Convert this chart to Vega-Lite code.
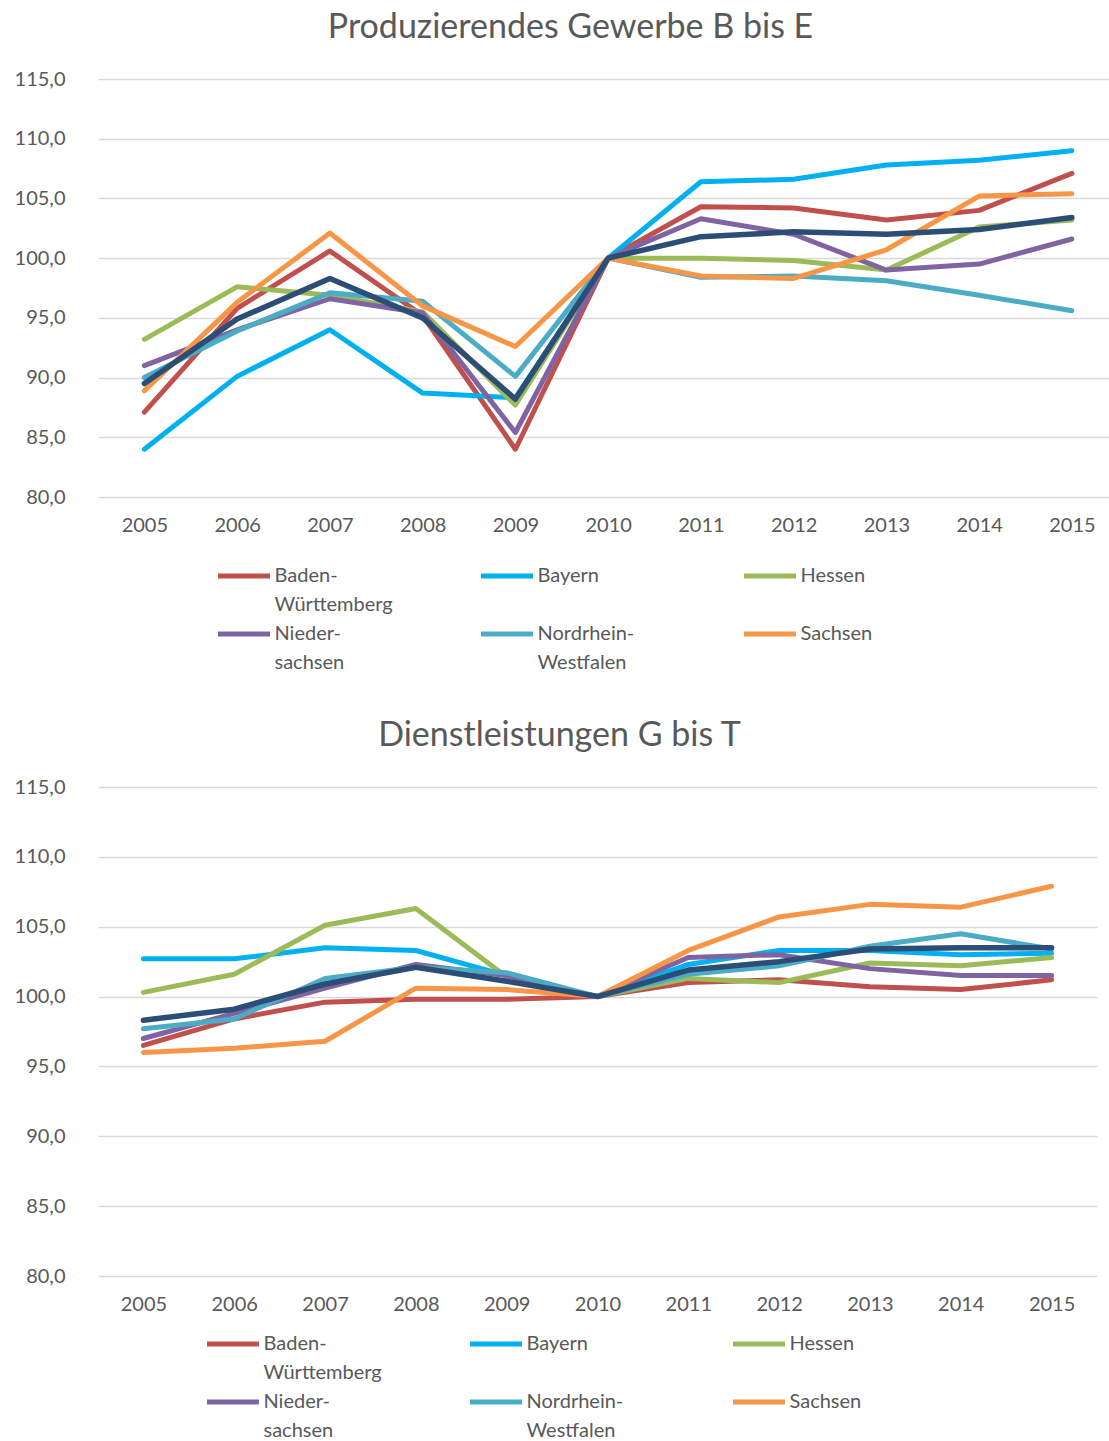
{
  "$schema": "https://vega.github.io/schema/vega-lite/v6.json",
  "padding": {"top": 11, "left": 0, "right": 0, "bottom": 0},
  "background": "white",
  "spacing": 46,
  "config": {
    "font": "Lato",
    "view": {"stroke": null},
    "title": {"fontWeight": "normal", "color": "#595959", "font": "Lato"},
    "axisY": {
      "grid": true, "gridColor": "#D9D9D9", "gridWidth": 1.5, "domain": false, "ticks": false,
      "labelColor": "#595959", "labelFontSize": 20, "labelPadding": 33, "minExtent": 98, "maxExtent": 98,
      "title": null
    },
    "axisX": {
      "grid": false, "domain": false, "ticks": false, "labelColor": "#595959", "labelFontSize": 20,
      "labelPadding": 18, "title": null, "labelFlush": false
    },
    "legend": {
      "orient": "none", "direction": "horizontal", "columns": 3, "symbolType": "M-4,0L4,0", "symbolSize": 169, "symbolStrokeWidth": 5,
      "labelFontSize": 20, "labelColor": "#595959", "labelOffset": 20.5, "labelLimit": 300, "columnPadding": 78,
      "rowPadding": 9, "gridAlign": "all", "title": null, "labelBaseline": "top"
    }
  },
  "datasets": {
    "pg": [
      {"land": "Baden-Württemberg", "jahr": 2005, "wert": 87.1}, {"land": "Baden-Württemberg", "jahr": 2006, "wert": 95.8}, {"land": "Baden-Württemberg", "jahr": 2007, "wert": 100.6}, {"land": "Baden-Württemberg", "jahr": 2008, "wert": 95.2}, {"land": "Baden-Württemberg", "jahr": 2009, "wert": 84.0}, {"land": "Baden-Württemberg", "jahr": 2010, "wert": 100.0}, {"land": "Baden-Württemberg", "jahr": 2011, "wert": 104.3}, {"land": "Baden-Württemberg", "jahr": 2012, "wert": 104.2}, {"land": "Baden-Württemberg", "jahr": 2013, "wert": 103.2}, {"land": "Baden-Württemberg", "jahr": 2014, "wert": 104.0}, {"land": "Baden-Württemberg", "jahr": 2015, "wert": 107.1},
      {"land": "Bayern", "jahr": 2005, "wert": 84.0}, {"land": "Bayern", "jahr": 2006, "wert": 90.1}, {"land": "Bayern", "jahr": 2007, "wert": 94.0}, {"land": "Bayern", "jahr": 2008, "wert": 88.7}, {"land": "Bayern", "jahr": 2009, "wert": 88.3}, {"land": "Bayern", "jahr": 2010, "wert": 100.0}, {"land": "Bayern", "jahr": 2011, "wert": 106.4}, {"land": "Bayern", "jahr": 2012, "wert": 106.6}, {"land": "Bayern", "jahr": 2013, "wert": 107.8}, {"land": "Bayern", "jahr": 2014, "wert": 108.2}, {"land": "Bayern", "jahr": 2015, "wert": 109.0},
      {"land": "Hessen", "jahr": 2005, "wert": 93.2}, {"land": "Hessen", "jahr": 2006, "wert": 97.6}, {"land": "Hessen", "jahr": 2007, "wert": 96.9}, {"land": "Hessen", "jahr": 2008, "wert": 95.5}, {"land": "Hessen", "jahr": 2009, "wert": 87.7}, {"land": "Hessen", "jahr": 2010, "wert": 100.0}, {"land": "Hessen", "jahr": 2011, "wert": 100.0}, {"land": "Hessen", "jahr": 2012, "wert": 99.8}, {"land": "Hessen", "jahr": 2013, "wert": 99.0}, {"land": "Hessen", "jahr": 2014, "wert": 102.6}, {"land": "Hessen", "jahr": 2015, "wert": 103.2},
      {"land": "Niedersachsen", "jahr": 2005, "wert": 91.0}, {"land": "Niedersachsen", "jahr": 2006, "wert": 94.0}, {"land": "Niedersachsen", "jahr": 2007, "wert": 96.6}, {"land": "Niedersachsen", "jahr": 2008, "wert": 95.4}, {"land": "Niedersachsen", "jahr": 2009, "wert": 85.4}, {"land": "Niedersachsen", "jahr": 2010, "wert": 100.0}, {"land": "Niedersachsen", "jahr": 2011, "wert": 103.3}, {"land": "Niedersachsen", "jahr": 2012, "wert": 102.0}, {"land": "Niedersachsen", "jahr": 2013, "wert": 99.0}, {"land": "Niedersachsen", "jahr": 2014, "wert": 99.5}, {"land": "Niedersachsen", "jahr": 2015, "wert": 101.6},
      {"land": "Nordrhein-Westfalen", "jahr": 2005, "wert": 90.0}, {"land": "Nordrhein-Westfalen", "jahr": 2006, "wert": 93.9}, {"land": "Nordrhein-Westfalen", "jahr": 2007, "wert": 97.1}, {"land": "Nordrhein-Westfalen", "jahr": 2008, "wert": 96.4}, {"land": "Nordrhein-Westfalen", "jahr": 2009, "wert": 90.1}, {"land": "Nordrhein-Westfalen", "jahr": 2010, "wert": 100.0}, {"land": "Nordrhein-Westfalen", "jahr": 2011, "wert": 98.4}, {"land": "Nordrhein-Westfalen", "jahr": 2012, "wert": 98.5}, {"land": "Nordrhein-Westfalen", "jahr": 2013, "wert": 98.1}, {"land": "Nordrhein-Westfalen", "jahr": 2014, "wert": 96.9}, {"land": "Nordrhein-Westfalen", "jahr": 2015, "wert": 95.6},
      {"land": "Sachsen", "jahr": 2005, "wert": 88.9}, {"land": "Sachsen", "jahr": 2006, "wert": 96.3}, {"land": "Sachsen", "jahr": 2007, "wert": 102.1}, {"land": "Sachsen", "jahr": 2008, "wert": 96.0}, {"land": "Sachsen", "jahr": 2009, "wert": 92.6}, {"land": "Sachsen", "jahr": 2010, "wert": 100.0}, {"land": "Sachsen", "jahr": 2011, "wert": 98.5}, {"land": "Sachsen", "jahr": 2012, "wert": 98.3}, {"land": "Sachsen", "jahr": 2013, "wert": 100.7}, {"land": "Sachsen", "jahr": 2014, "wert": 105.2}, {"land": "Sachsen", "jahr": 2015, "wert": 105.4}
    ],
    "pgD": [
      {"land": "Deutschland", "jahr": 2005, "wert": 89.5}, {"land": "Deutschland", "jahr": 2006, "wert": 94.9}, {"land": "Deutschland", "jahr": 2007, "wert": 98.3}, {"land": "Deutschland", "jahr": 2008, "wert": 95.0}, {"land": "Deutschland", "jahr": 2009, "wert": 88.2}, {"land": "Deutschland", "jahr": 2010, "wert": 100.0}, {"land": "Deutschland", "jahr": 2011, "wert": 101.8}, {"land": "Deutschland", "jahr": 2012, "wert": 102.2}, {"land": "Deutschland", "jahr": 2013, "wert": 102.0}, {"land": "Deutschland", "jahr": 2014, "wert": 102.4}, {"land": "Deutschland", "jahr": 2015, "wert": 103.4}
    ],
    "dl": [
      {"land": "Baden-Württemberg", "jahr": 2005, "wert": 96.5}, {"land": "Baden-Württemberg", "jahr": 2006, "wert": 98.4}, {"land": "Baden-Württemberg", "jahr": 2007, "wert": 99.6}, {"land": "Baden-Württemberg", "jahr": 2008, "wert": 99.8}, {"land": "Baden-Württemberg", "jahr": 2009, "wert": 99.8}, {"land": "Baden-Württemberg", "jahr": 2010, "wert": 100.0}, {"land": "Baden-Württemberg", "jahr": 2011, "wert": 101.0}, {"land": "Baden-Württemberg", "jahr": 2012, "wert": 101.2}, {"land": "Baden-Württemberg", "jahr": 2013, "wert": 100.7}, {"land": "Baden-Württemberg", "jahr": 2014, "wert": 100.5}, {"land": "Baden-Württemberg", "jahr": 2015, "wert": 101.2},
      {"land": "Bayern", "jahr": 2005, "wert": 102.7}, {"land": "Bayern", "jahr": 2006, "wert": 102.7}, {"land": "Bayern", "jahr": 2007, "wert": 103.5}, {"land": "Bayern", "jahr": 2008, "wert": 103.3}, {"land": "Bayern", "jahr": 2009, "wert": 101.5}, {"land": "Bayern", "jahr": 2010, "wert": 100.0}, {"land": "Bayern", "jahr": 2011, "wert": 102.3}, {"land": "Bayern", "jahr": 2012, "wert": 103.3}, {"land": "Bayern", "jahr": 2013, "wert": 103.3}, {"land": "Bayern", "jahr": 2014, "wert": 103.0}, {"land": "Bayern", "jahr": 2015, "wert": 103.1},
      {"land": "Hessen", "jahr": 2005, "wert": 100.3}, {"land": "Hessen", "jahr": 2006, "wert": 101.6}, {"land": "Hessen", "jahr": 2007, "wert": 105.1}, {"land": "Hessen", "jahr": 2008, "wert": 106.3}, {"land": "Hessen", "jahr": 2009, "wert": 101.4}, {"land": "Hessen", "jahr": 2010, "wert": 100.0}, {"land": "Hessen", "jahr": 2011, "wert": 101.3}, {"land": "Hessen", "jahr": 2012, "wert": 101.0}, {"land": "Hessen", "jahr": 2013, "wert": 102.4}, {"land": "Hessen", "jahr": 2014, "wert": 102.2}, {"land": "Hessen", "jahr": 2015, "wert": 102.8},
      {"land": "Niedersachsen", "jahr": 2005, "wert": 97.0}, {"land": "Niedersachsen", "jahr": 2006, "wert": 98.8}, {"land": "Niedersachsen", "jahr": 2007, "wert": 100.6}, {"land": "Niedersachsen", "jahr": 2008, "wert": 102.3}, {"land": "Niedersachsen", "jahr": 2009, "wert": 101.5}, {"land": "Niedersachsen", "jahr": 2010, "wert": 100.0}, {"land": "Niedersachsen", "jahr": 2011, "wert": 102.8}, {"land": "Niedersachsen", "jahr": 2012, "wert": 103.0}, {"land": "Niedersachsen", "jahr": 2013, "wert": 102.0}, {"land": "Niedersachsen", "jahr": 2014, "wert": 101.5}, {"land": "Niedersachsen", "jahr": 2015, "wert": 101.5},
      {"land": "Nordrhein-Westfalen", "jahr": 2005, "wert": 97.7}, {"land": "Nordrhein-Westfalen", "jahr": 2006, "wert": 98.4}, {"land": "Nordrhein-Westfalen", "jahr": 2007, "wert": 101.3}, {"land": "Nordrhein-Westfalen", "jahr": 2008, "wert": 102.1}, {"land": "Nordrhein-Westfalen", "jahr": 2009, "wert": 101.7}, {"land": "Nordrhein-Westfalen", "jahr": 2010, "wert": 100.0}, {"land": "Nordrhein-Westfalen", "jahr": 2011, "wert": 101.6}, {"land": "Nordrhein-Westfalen", "jahr": 2012, "wert": 102.2}, {"land": "Nordrhein-Westfalen", "jahr": 2013, "wert": 103.6}, {"land": "Nordrhein-Westfalen", "jahr": 2014, "wert": 104.5}, {"land": "Nordrhein-Westfalen", "jahr": 2015, "wert": 103.4},
      {"land": "Sachsen", "jahr": 2005, "wert": 96.0}, {"land": "Sachsen", "jahr": 2006, "wert": 96.3}, {"land": "Sachsen", "jahr": 2007, "wert": 96.8}, {"land": "Sachsen", "jahr": 2008, "wert": 100.6}, {"land": "Sachsen", "jahr": 2009, "wert": 100.5}, {"land": "Sachsen", "jahr": 2010, "wert": 100.0}, {"land": "Sachsen", "jahr": 2011, "wert": 103.3}, {"land": "Sachsen", "jahr": 2012, "wert": 105.7}, {"land": "Sachsen", "jahr": 2013, "wert": 106.6}, {"land": "Sachsen", "jahr": 2014, "wert": 106.4}, {"land": "Sachsen", "jahr": 2015, "wert": 107.9}
    ],
    "dlD": [
      {"land": "Deutschland", "jahr": 2005, "wert": 98.3}, {"land": "Deutschland", "jahr": 2006, "wert": 99.1}, {"land": "Deutschland", "jahr": 2007, "wert": 100.9}, {"land": "Deutschland", "jahr": 2008, "wert": 102.1}, {"land": "Deutschland", "jahr": 2009, "wert": 101.1}, {"land": "Deutschland", "jahr": 2010, "wert": 100.0}, {"land": "Deutschland", "jahr": 2011, "wert": 101.9}, {"land": "Deutschland", "jahr": 2012, "wert": 102.5}, {"land": "Deutschland", "jahr": 2013, "wert": 103.4}, {"land": "Deutschland", "jahr": 2014, "wert": 103.5}, {"land": "Deutschland", "jahr": 2015, "wert": 103.5}
    ]
  },
  "resolve": {"scale": {"color": "independent"}, "legend": {"color": "independent"}},
  "vconcat": [
    {
      "title": {"text": "Produzierendes Gewerbe B bis E", "dx": -33, "offset": 24, "fontSize": 34},
      "width": 1011,
      "height": 418,
      "layer": [
        {
          "data": {"name": "pg"},
          "mark": {"type": "line", "strokeWidth": 5, "strokeCap": "round", "strokeJoin": "round"},
          "encoding": {
            "x": {"field": "jahr", "type": "quantitative", "scale": {"domain": [2004.5, 2015.4], "nice": false, "zero": false},
              "axis": {"values": [2005, 2006, 2007, 2008, 2009, 2010, 2011, 2012, 2013, 2014, 2015], "format": "d"}},
            "y": {"field": "wert", "type": "quantitative", "scale": {"domain": [80, 115], "nice": false, "zero": false},
              "axis": {"values": [80, 85, 90, 95, 100, 105, 110, 115], "labelExpr": "replace(format(datum.value, '.1f'), '.', ',')"}},
            "color": {"field": "land", "type": "nominal",
              "scale": {"domain": ["Baden-Württemberg", "Bayern", "Hessen", "Niedersachsen", "Nordrhein-Westfalen", "Sachsen"],
                        "range": ["#C0504D", "#00B0F0", "#9BBB59", "#8064A2", "#4BACC6", "#F79646"]},
              "legend": {"legendX": 136, "legendY": 487,
                "labelExpr": "datum.label == 'Baden-Württemberg' ? ['Baden-', 'Württemberg'] : datum.label == 'Niedersachsen' ? ['Nieder-', 'sachsen'] : datum.label == 'Nordrhein-Westfalen' ? ['Nordrhein-', 'Westfalen'] : [datum.label, '']",
                "encoding": {"labels": {"lineHeight": {"value": 29}, "dy": {"value": -10}}}}}
          }
        },
        {
          "data": {"name": "pgD"},
          "mark": {"type": "line", "strokeWidth": 5.5, "strokeCap": "round", "strokeJoin": "round", "color": "#2C4D75"},
          "encoding": {
            "x": {"field": "jahr", "type": "quantitative"},
            "y": {"field": "wert", "type": "quantitative"}
          }
        }
      ]
    },
    {
      "title": {"text": "Dienstleistungen G bis T", "dx": -38, "offset": 24, "fontSize": 34},
      "width": 999,
      "height": 489,
      "layer": [
        {
          "data": {"name": "dl"},
          "mark": {"type": "line", "strokeWidth": 5, "strokeCap": "round", "strokeJoin": "round"},
          "encoding": {
            "x": {"field": "jahr", "type": "quantitative", "scale": {"domain": [2004.5, 2015.5], "nice": false, "zero": false},
              "axis": {"values": [2005, 2006, 2007, 2008, 2009, 2010, 2011, 2012, 2013, 2014, 2015], "format": "d"}},
            "y": {"field": "wert", "type": "quantitative", "scale": {"domain": [80, 115], "nice": false, "zero": false},
              "axis": {"values": [80, 85, 90, 95, 100, 105, 110, 115], "labelExpr": "replace(format(datum.value, '.1f'), '.', ',')"}},
            "color": {"field": "land", "type": "nominal",
              "scale": {"domain": ["Baden-Württemberg", "Bayern", "Hessen", "Niedersachsen", "Nordrhein-Westfalen", "Sachsen"],
                        "range": ["#C0504D", "#00B0F0", "#9BBB59", "#8064A2", "#4BACC6", "#F79646"]},
              "legend": {"legendX": 125, "legendY": 547,
                "labelExpr": "datum.label == 'Baden-Württemberg' ? ['Baden-', 'Württemberg'] : datum.label == 'Niedersachsen' ? ['Nieder-', 'sachsen'] : datum.label == 'Nordrhein-Westfalen' ? ['Nordrhein-', 'Westfalen'] : [datum.label, '']",
                "encoding": {"labels": {"lineHeight": {"value": 29}, "dy": {"value": -10}}}}}
          }
        },
        {
          "data": {"name": "dlD"},
          "mark": {"type": "line", "strokeWidth": 5.5, "strokeCap": "round", "strokeJoin": "round", "color": "#2C4D75"},
          "encoding": {
            "x": {"field": "jahr", "type": "quantitative"},
            "y": {"field": "wert", "type": "quantitative"}
          }
        }
      ]
    }
  ]
}
